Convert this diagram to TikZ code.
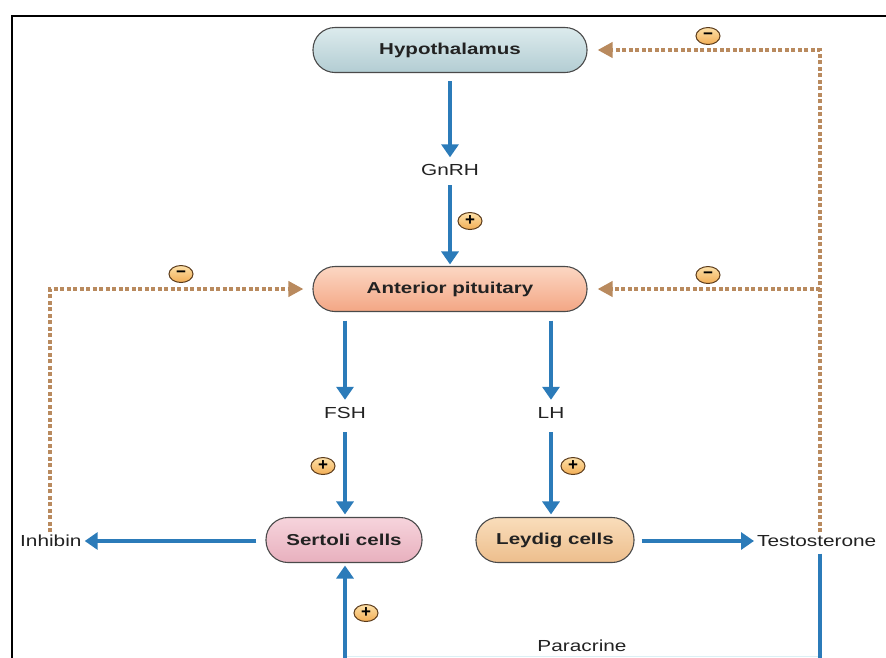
\documentclass[tikz,border=0pt]{standalone}
\usepackage{fontspec}
\setmainfont{Liberation Sans}
\usetikzlibrary{arrows.meta,shapes.geometric}
\definecolor{flowblue}{HTML}{2B7BB9}
\definecolor{fbbrown}{HTML}{B98A5E}
\definecolor{badgeline}{HTML}{5A3A1A}
\definecolor{badgetop}{HTML}{FDE0A8}
\definecolor{badgebot}{HTML}{F2AE55}
\definecolor{hyptop}{HTML}{DCEBED}
\definecolor{hypbot}{HTML}{B3CDD3}
\definecolor{pittop}{HTML}{FCD7C3}
\definecolor{pitbot}{HTML}{F3A684}
\definecolor{sertop}{HTML}{F6D4DC}
\definecolor{serbot}{HTML}{E8B0BE}
\definecolor{leytop}{HTML}{F9DDBB}
\definecolor{leybot}{HTML}{EDBE8C}
\definecolor{boxline}{HTML}{4A4A4A}
\definecolor{txt}{HTML}{222222}
\newcommand{\hstr}[1]{\scalebox{1.3}[1]{#1}}
\tikzset{
  cellbox/.style={draw=boxline, line width=1.1pt, rounded corners=22pt,
    minimum height=45pt, text=txt, font=\bfseries\fontsize{15.8}{18}\selectfont},
  lbl/.style={text=txt, text height=11pt, text depth=0pt, inner sep=4pt,
    font=\fontsize{16}{18}\selectfont},
  bluearrow/.style={draw=flowblue, line width=4pt, -{Triangle[width=17pt,length=13pt]}},
  blueline/.style={draw=flowblue, line width=4pt},
  fbline/.style={draw=fbbrown, line width=4pt, dash pattern=on 4pt off 2.5pt,
    -{Triangle[width=15pt,length=15pt,color=fbbrown]}},
  badge/.style={ellipse, draw=badgeline, line width=1pt, top color=badgetop,
    bottom color=badgebot, minimum width=24pt, minimum height=17pt, inner sep=0pt,
    font=\bfseries\fontsize{17}{17}\selectfont}
}
\begin{document}
\begin{tikzpicture}[x=1pt, y=-1pt]
\useasboundingbox (0,0) rectangle (886,657);
% frame
\draw[black, line width=2.5pt] (886,16) -- (12,16) -- (12,662);

% main boxes
\node[cellbox, minimum width=274pt, top color=hyptop, bottom color=hypbot] (hyp) at (450,50) {\hstr{Hypothalamus}};
\node[cellbox, minimum width=274pt, top color=pittop, bottom color=pitbot] (pit) at (450,289) {\hstr{Anterior pituitary}};
\node[cellbox, minimum width=156pt, top color=sertop, bottom color=serbot] (sert) at (344,540) {\hstr{Sertoli cells}};
\node[cellbox, minimum width=158pt, top color=leytop, bottom color=leybot] (ley) at (555,540) {\hstr{Leydig cells}};

% labels
\node[lbl] (gnrh) at (450,170) {\hstr{GnRH}};
\node[lbl] (fsh) at (345,413) {\hstr{FSH}};
\node[lbl] (lh) at (551,413) {\hstr{LH}};
\node[lbl, anchor=west, inner sep=3pt] (inh) at (17,541) {\hstr{Inhibin}};
\node[lbl, anchor=west, inner sep=3pt] (tes) at (754,541) {\hstr{Testosterone}};
\node[lbl] (para) at (582,646) {\hstr{Paracrine}};

% coordinates
\coordinate (tr) at (820,50);
\coordinate (mr) at (820,289);
\coordinate (ml) at (50,289);
\coordinate (br) at (820,662);
\coordinate (bl) at (345,662);

% blue arrows
\draw[bluearrow, shorten <=8pt, shorten >=3pt] (hyp.south) -- (gnrh.north);
\draw[bluearrow, shorten <=5.5pt, shorten >=1.5pt] (gnrh.south) -- (pit.north);
\draw[bluearrow, shorten <=8.5pt, shorten >=3.5pt] (pit.south -| fsh.north) -- (fsh.north);
\draw[bluearrow, shorten <=9.5pt, shorten >=2.5pt] (fsh.south) -- (fsh.south |- sert.north);
\draw[bluearrow, shorten <=8.5pt, shorten >=3.5pt] (pit.south -| lh.north) -- (lh.north);
\draw[bluearrow, shorten <=9.5pt, shorten >=2.5pt] (lh.south) -- (lh.south |- ley.north);
\draw[bluearrow, shorten <=9pt] (sert.west |- inh.east) -- (inh.east);
\draw[bluearrow, shorten <=7pt] (ley.east |- tes.west) -- (tes.west);
\draw[blueline, shorten <=4pt] (tes.south -| br) -- (br);
\draw[bluearrow, shorten >=2.5pt] (bl) -- (bl |- sert.south);
\draw[draw={rgb,255:red,220;green,240;blue,245}, line width=1.5pt] (347,656.5) -- (818,656.5);

% feedback
\draw[fbline, shorten >=10pt] (tes.north -| tr) -- (tr) -- (hyp.east);
\draw[fbline, shorten >=10pt] (mr) -- (pit.east);
\draw[fbline, shorten >=9pt] (inh.north -| ml) -- (ml) -- (pit.west);

% badges
\node[badge] (b1) at (708,36) {−};
\node[badge] (b2) at (708,275) {−};
\node[badge] (b3) at (181,274) {−};
\node[badge] (b4) at (470,221) {+};
\node[badge] (b5) at (323,466) {+};
\node[badge] (b6) at (573,466) {+};
\node[badge] (b7) at (366,613) {+};
\end{tikzpicture}
\end{document}
